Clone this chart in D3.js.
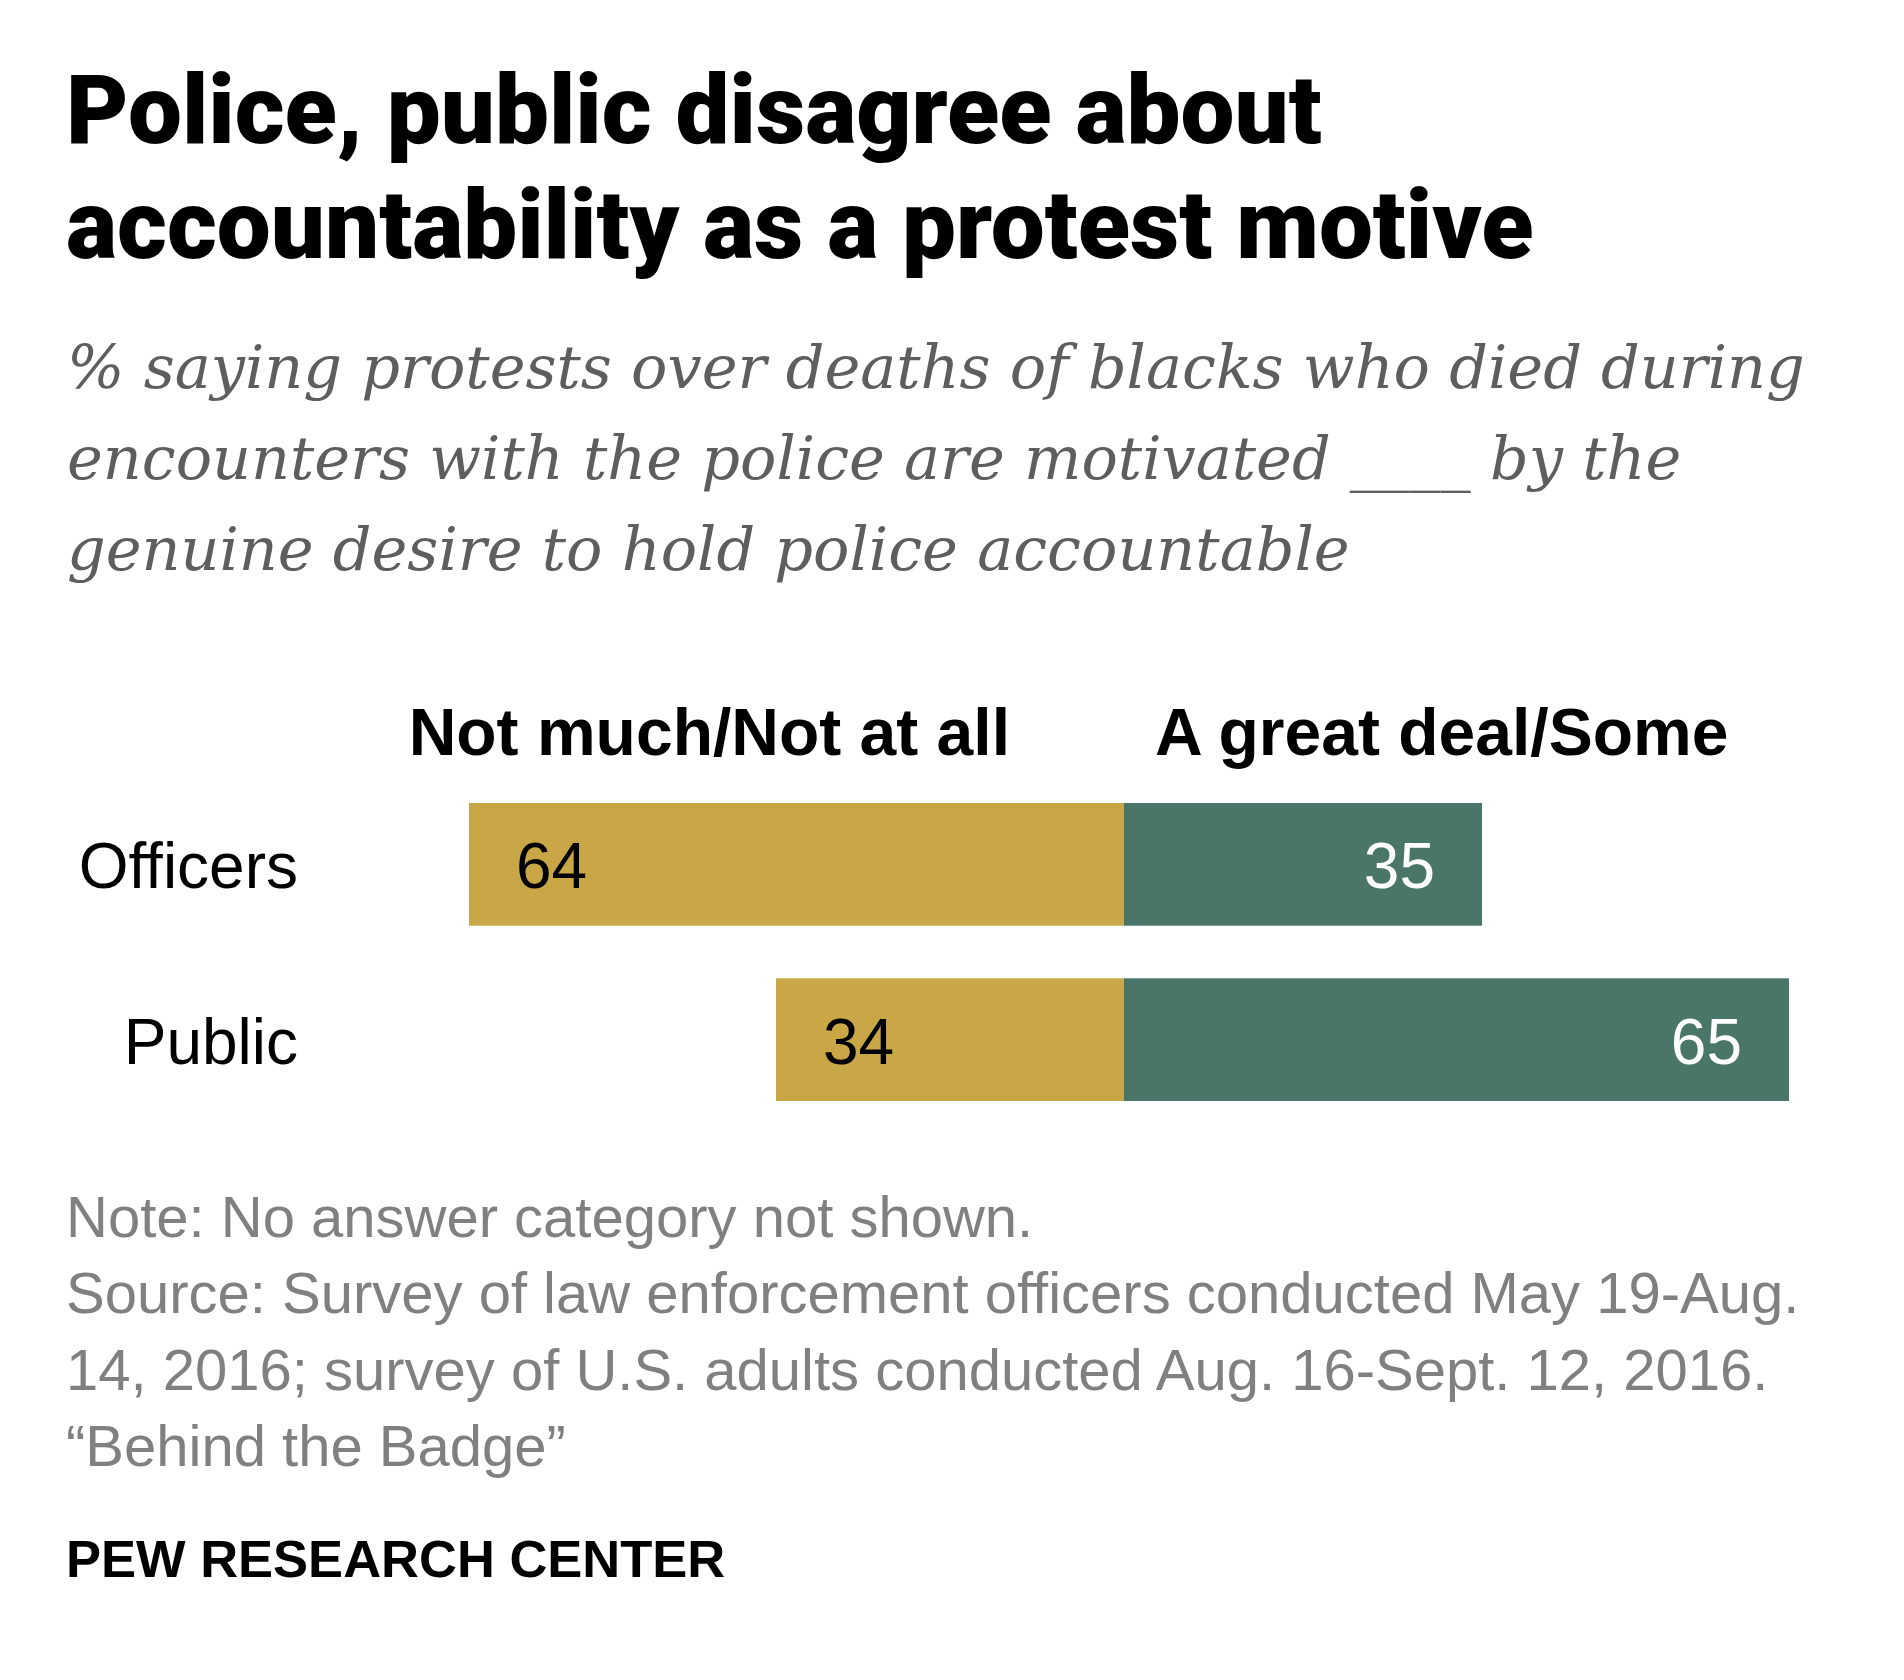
<!DOCTYPE html>
<html><head><meta charset="utf-8">
<script src="https://cdn.jsdelivr.net/npm/d3@7"></script>
<style>body{margin:0;background:#fff}</style>
</head><body><div id="chart"></div>
<script>
// data
let groups = ['Officers', 'Public'];
let notMuch = [64, 34];
let greatDeal = [35, 65];
let seriesNames = ['Not much/Not at all', 'A great deal/Some'];

let width = 1904, height = 1680;
let svg = d3.select('#chart').append('svg').attr('width', width).attr('height', height);

// title + subtitle
[['Police, public disagree about', 143], ['accountability as a protest motive', 258]].forEach(t => {
    svg.append('text').attr('x', 66).attr('y', t[1]).text(t[0])
        .style('font', '900 96px Roboto').attr('fill', '#000');
});
['% saying protests over deaths of blacks who died during',
 'encounters with the police are motivated ____ by the',
 'genuine desire to hold police accountable'].forEach((t, i) => {
    svg.append('text').attr('x', 67).attr('y', 388 + i * 91).text(t)
        .style('font', 'italic 60.5px "DejaVu Serif"').attr('fill', '#5e5e5e');
});

// scales
let x = d3.scaleLinear().domain([-64, 65]).range([469, 1789]);
let y = d3.scaleBand().domain(groups).range([803, 1101]).paddingInner(0.3);

// headers
svg.append('text').attr('x', 1010).attr('y', 755).attr('text-anchor', 'end').text(seriesNames[0])
    .style('font', 'bold 66px "Liberation Sans Narrow", "Liberation Sans"');
svg.append('text').attr('x', 1155).attr('y', 755).text(seriesNames[1])
    .style('font', 'bold 66px "Liberation Sans Narrow", "Liberation Sans"');

let rows = svg.selectAll('g.row').data(groups).enter().append('g').attr('class', 'row');
rows.append('rect').attr('x', (d, i) => x(-notMuch[i])).attr('y', d => y(d))
    .attr('width', (d, i) => x(0) - x(-notMuch[i])).attr('height', y.bandwidth()).attr('fill', '#C9A646');
rows.append('rect').attr('x', x(0)).attr('y', d => y(d))
    .attr('width', (d, i) => x(greatDeal[i]) - x(0)).attr('height', y.bandwidth()).attr('fill', '#4A7569');
rows.append('text').attr('x', (d, i) => x(-notMuch[i]) + 47).attr('y', d => y(d) + y.bandwidth() / 2 + 24)
    .text((d, i) => notMuch[i]).style('font', '64px "Liberation Sans"').attr('fill', '#000');
rows.append('text').attr('x', (d, i) => x(greatDeal[i]) - 47).attr('y', d => y(d) + y.bandwidth() / 2 + 24)
    .attr('text-anchor', 'end').text((d, i) => greatDeal[i]).style('font', '64px "Liberation Sans"').attr('fill', '#fff');
rows.append('text').attr('x', 298).attr('y', d => y(d) + y.bandwidth() / 2 + 24)
    .attr('text-anchor', 'end').text(d => d).style('font', '64px "Liberation Sans"').attr('fill', '#000');

// notes
['Note: No answer category not shown.',
 'Source: Survey of law enforcement officers conducted May 19-Aug.',
 '14, 2016; survey of U.S. adults conducted Aug. 16-Sept. 12, 2016.',
 '\u201cBehind the Badge\u201d'].forEach((t, i) => {
    svg.append('text').attr('x', 66).attr('y', 1237 + i * 76.4).text(t)
        .style('font', '58px "Liberation Sans"').attr('fill', '#808080');
});
svg.append('text').attr('x', 66).attr('y', 1577).text('PEW RESEARCH CENTER')
    .style('font', 'bold 52.5px "Liberation Sans Narrow", "Liberation Sans"').attr('fill', '#000');
</script></body></html>
